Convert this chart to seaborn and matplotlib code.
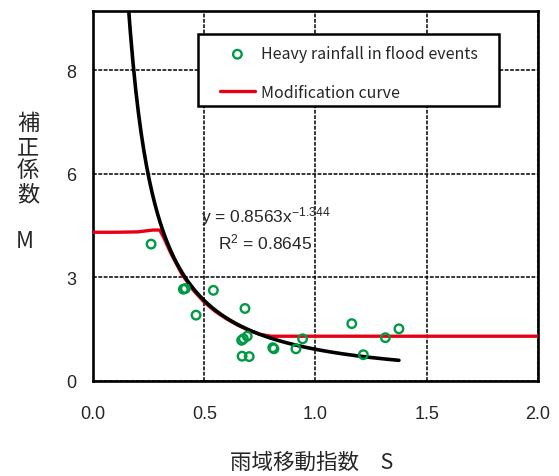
import numpy as np
import pandas as pd
import matplotlib
matplotlib.use("Agg")
import matplotlib.pyplot as plt
from matplotlib.patches import Rectangle
import seaborn as sns

# observed points (rain area movement index S, correction factor M)
event_s = [0.261, 0.406, 0.415, 0.541, 0.463, 0.683, 0.668, 0.676, 0.693,
           0.670, 0.702, 0.808, 0.813, 0.912, 0.942, 1.163, 1.215, 1.314, 1.375]
event_m = [3.70, 2.48, 2.50, 2.45, 1.78, 1.96, 1.10, 1.14, 1.21,
           0.67, 0.66, 0.90, 0.87, 0.87, 1.14, 1.55, 0.71, 1.17, 1.41]

# modification curve
mod_s = [0.0, 0.10, 0.20, 0.27, 0.30, 0.32, 0.35, 0.40, 0.45, 0.50,
         0.55, 0.60, 0.65, 0.70, 0.75, 0.80, 2.0]
mod_m = [4.02, 4.02, 4.03, 4.08, 4.08, 3.85, 3.45, 2.88, 2.46, 2.13,
         1.88, 1.68, 1.51, 1.37, 1.26, 1.21, 1.21]

# power trendline shown on the chart: M = a * S^b
fit_a = 0.8563
fit_b = -1.344
fit_r2 = 0.8645
fit_range = (0.155, 1.375)

x_ticks = [0.0, 0.5, 1.0, 1.5, 2.0]
x_ticklabels = ["0.0", "0.5", "1.0", "1.5", "2.0"]
y_ticks = [0.0, 2.8, 5.6, 8.4]
y_ticklabels = ["0", "3", "6", "8"]

green = "#009A44"
red = "#E60012"

sns.set_style("white")
plt.rcParams["font.family"] = ["Liberation Sans", "Noto Sans CJK JP", "DejaVu Sans"]
plt.rcParams["mathtext.default"] = "regular"

fig = plt.figure(figsize=(5.59, 4.77), dpi=100)
ax = fig.add_axes([0.1664, 0.1992, 0.7960, 0.7756])

fit_s = np.linspace(fit_range[0], fit_range[1], 200)
fit_df = pd.DataFrame({"S": fit_s, "M": fit_a * fit_s ** fit_b})
mod_df = pd.DataFrame({"S": mod_s, "M": mod_m})
pts_df = pd.DataFrame({"S": event_s, "M": event_m})

sns.lineplot(data=mod_df, x="S", y="M", ax=ax, color=red, lw=2.4,
             sort=False, estimator=None, zorder=3, label="Modification curve")
sns.lineplot(data=fit_df, x="S", y="M", ax=ax, color="black", lw=2.6,
             sort=False, estimator=None, zorder=4)
sns.scatterplot(data=pts_df, x="S", y="M", ax=ax, marker="o", s=38,
                facecolor="none", edgecolor=green, linewidth=1.7, zorder=5,
                label="Heavy rainfall in flood events")

ax.set_xlim(0, 2.0)
ax.set_ylim(0, 10.0)
ax.set_xticks(x_ticks)
ax.set_xticklabels(x_ticklabels, fontsize=13)
ax.set_yticks(y_ticks)
ax.set_yticklabels(y_ticklabels, fontsize=13)
ax.tick_params(axis="x", length=0, pad=17.5)
ax.tick_params(axis="y", length=0, pad=12)
ax.grid(True, color="black", linestyle=(0, (2.5, 1)), lw=1.1)
ax.set_axisbelow(True)
for sp in ax.spines.values():
    sp.set_visible(True)
    sp.set_color("black")
    sp.set_linewidth(1.9)
ax.set_xlabel("")
ax.set_ylabel("")

# trendline equation
ax.text(0.484, 4.46, "y = 0.8563x$^{\u22121.344}$", fontsize=12.5, va="center", zorder=6)
ax.text(0.562, 3.78, "R$^{2}$ = %.4f" % fit_r2, fontsize=12.5, va="center", zorder=6)

# legend box
ax.add_patch(Rectangle((0.236, 0.743), 0.676, 0.195, transform=ax.transAxes,
                       facecolor="white", edgecolor="black", lw=1.8, zorder=7))
handles, labels = ax.get_legend_handles_labels()
order = [labels.index("Heavy rainfall in flood events"), labels.index("Modification curve")]
leg = ax.legend([handles[i] for i in order], [labels[i] for i in order],
                loc="upper left", bbox_to_anchor=(0.285, 0.907), frameon=False,
                borderpad=0, borderaxespad=0, handlelength=2.2, handletextpad=0.35,
                labelspacing=1.32, prop={"family": ["Noto Sans CJK JP"], "size": 11.5})
leg.set_zorder(8)

# axis titles
jp = ["Noto Sans CJK JP", "DejaVu Sans"]
for i, ch in enumerate("補正係数"):
    fig.text(28 / 559, 1 - (124 + 23.5 * i) / 477, ch, fontsize=16, family=jp,
             ha="center", va="center")
fig.text(25 / 559, 1 - 241 / 477, "M", fontsize=16, family=jp, ha="center", va="center")
fig.text(312 / 559, 1 - 463 / 477, "雨域移動指数　S", fontsize=15.5, family=jp,
         ha="center", va="center")

fig.savefig("out.png", dpi=100)
